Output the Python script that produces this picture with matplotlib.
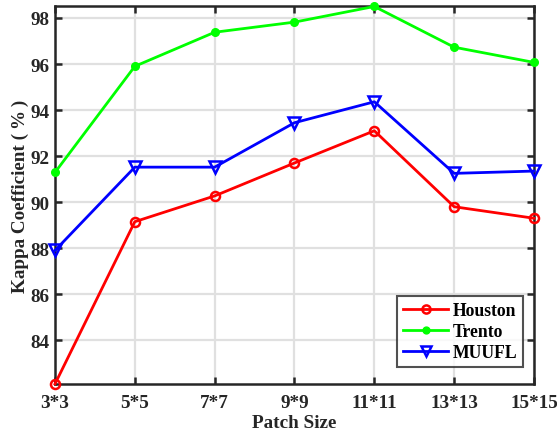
import matplotlib
matplotlib.use("Agg")
import matplotlib.pyplot as plt

categories = ["3*3", "5*5", "7*7", "9*9", "11*11", "13*13", "15*15"]
houston = [82.1, 89.15, 90.27, 91.70, 93.10, 89.80, 89.30]
trento = [91.29, 95.90, 97.38, 97.82, 98.50, 96.73, 96.07]
muufl = [87.90, 91.52, 91.52, 93.45, 94.36, 91.25, 91.35]
yticks = [84, 86, 88, 90, 92, 94, 96, 98]

plt.rcParams['font.family'] = ['Liberation Serif', 'DejaVu Serif']
plt.rcParams['font.weight'] = 'bold'

fs = 13.8
fig = plt.figure(figsize=(5.57, 4.39), dpi=100)
ax = fig.add_axes([0.0987, 0.123, 0.86, 0.860])

x = list(range(len(categories)))
ax.plot(x, houston, color='#ff0000', lw=2, marker='o', ms=6.5, mfc='none', mec='#ff0000', mew=1.8, label='Houston', clip_on=False, zorder=3)
ax.plot(x, trento, color='#00ff00', lw=2, marker='o', ms=5.5, mfc='#00ff00', mec='#00ff00', label='Trento', clip_on=False, zorder=3)
ax.plot(x, muufl, color='#0000ff', lw=2, marker='v', ms=8, mfc='none', mec='#0000ff', mew=1.8, label='MUUFL', clip_on=False, zorder=3)

ax.set_xlim(0, len(categories) - 1)
ax.set_ylim(82.1, 98.5)
ax.set_xticks(x)
ax.set_xticklabels(categories)
ax.set_yticks(yticks)
ax.grid(True, color='#e0e0e0', lw=1.6)
ax.set_axisbelow(True)

for s in ax.spines.values():
    s.set_linewidth(1.8)
    s.set_color('#262626')
ax.tick_params(direction='in', length=5, width=1.8, color='#262626', top=True, right=True,
               labelsize=fs, labelcolor='#262626')
ax.tick_params(axis='y', pad=4)
ax.tick_params(axis='x', pad=7)
for lab in ax.get_xticklabels() + ax.get_yticklabels():
    lab.set_fontweight('bold')

ax.set_xlabel('Patch Size', fontsize=fs, fontweight='bold', color='#262626', labelpad=2)
ax.set_ylabel('Kappa Coefficient (\u2009%\u2009)', fontsize=fs, fontweight='bold', color='#262626', labelpad=1)

leg = ax.legend(loc='lower right', fontsize=12.7, frameon=True, fancybox=False,
                edgecolor='#262626', handlelength=2.55, borderpad=0.35, labelspacing=0.22,
                handletextpad=0.25, borderaxespad=0, bbox_to_anchor=(0.978, 0.045),
                markerscale=0.9)
leg.get_frame().set_linewidth(1.5)
for t in leg.get_texts():
    t.set_fontweight('bold')

fig.savefig('out.png', dpi=100)
